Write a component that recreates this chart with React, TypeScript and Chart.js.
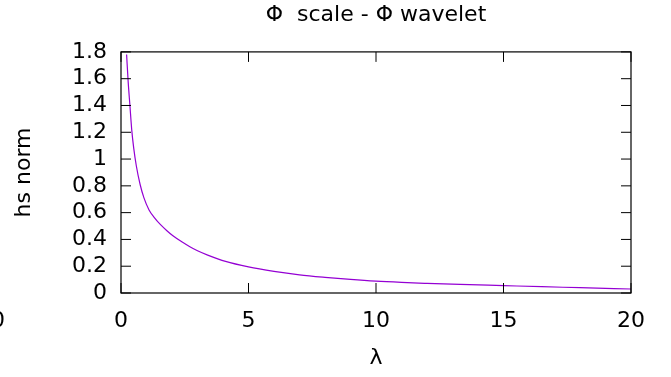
import React, { useEffect, useRef } from "react";
import { Chart, registerables } from "chart.js";

Chart.register(...registerables);

const titleText = "Φ  scale - Φ wavelet";
const xTitle = "λ";
const yTitle = "hs norm";
const strayLabel = "0";

const lambda = [0.22, 0.28, 0.35, 0.42, 0.5, 0.6, 0.75, 0.9, 1.1, 1.3, 1.55, 1.8, 2.05, 2.4, 2.7, 3.0, 3.4, 4.1, 5.0, 6.0, 7.0, 8.0, 9.0, 10.0, 11.0, 12.0, 13.3, 15.0, 16.5, 18.0, 20.0];
const hsNorm = [1.78, 1.58, 1.4, 1.22, 1.08, 0.95, 0.81, 0.71, 0.62, 0.565, 0.51, 0.465, 0.425, 0.38, 0.345, 0.315, 0.283, 0.236, 0.195, 0.162, 0.136, 0.117, 0.101, 0.088, 0.079, 0.072, 0.064, 0.055, 0.047, 0.04, 0.03];

const xMin = 0, xMax = 20, xStep = 5;
const yMin = 0, yMax = 1.8, yStep = 0.2;

const FONT = "'DejaVu Sans', sans-serif";
const FS = 22;

const framePlugin = {
  id: "gnuplotFrame",
  afterDatasetsDraw(chart: any) {
    const { ctx, chartArea: a, scales } = chart;
    const xs = scales.x, ys = scales.y;
    const tl = 10;
    ctx.save();
    ctx.strokeStyle = "#000";
    ctx.lineWidth = 1;
    ctx.beginPath();
    for (const t of xs.ticks) {
      const px = xs.getPixelForValue(t.value);
      ctx.moveTo(px, a.bottom); ctx.lineTo(px, a.bottom - tl);
      ctx.moveTo(px, a.top); ctx.lineTo(px, a.top + tl);
    }
    for (const t of ys.ticks) {
      const py = ys.getPixelForValue(t.value);
      ctx.moveTo(a.left, py); ctx.lineTo(a.left + tl, py);
      ctx.moveTo(a.right, py); ctx.lineTo(a.right - tl, py);
    }
    ctx.stroke();
    ctx.lineWidth = 1.2;
    ctx.strokeRect(a.left, a.top, a.right - a.left, a.bottom - a.top);
    // stray tick label at far left, as in the reference
    ctx.fillStyle = "#000";
    ctx.font = `${FS}px ${FONT}`;
    ctx.textAlign = "center";
    ctx.textBaseline = "middle";
    ctx.fillText(strayLabel, -2, a.bottom + 15 + FS * 0.6);
    ctx.restore();
  },
};

export default function App() {
  const ref = useRef<HTMLCanvasElement | null>(null);
  useEffect(() => {
    if (!ref.current) return;
    const chart = new Chart(ref.current, {
      type: "scatter",
      data: {
        datasets: [
          {
            data: lambda.map((x, i) => ({ x, y: hsNorm[i] })),
            showLine: true,
            borderColor: "#9400D3",
            borderWidth: 1.2,
            pointRadius: 0,
            cubicInterpolationMode: "monotone",
          },
        ],
      },
      options: {
        animation: false,
        responsive: false,
        layout: { padding: { left: 0, right: 40, top: 0, bottom: 0 } },
        plugins: {
          legend: { display: false },
          tooltip: { enabled: false },
          title: {
            display: true,
            fullSize: false,
            text: titleText,
            color: "#000",
            font: { family: FONT, size: FS, weight: "normal" },
            padding: { top: 2.5, bottom: 23 },
          },
        },
        scales: {
          x: {
            type: "linear",
            min: xMin,
            max: xMax,
            afterFit: (s: any) => { s.height = 84; },
            grid: { display: false, drawTicks: false },
            border: { display: false },
            ticks: {
              stepSize: xStep,
              color: "#000",
              padding: 15,
              maxRotation: 0,
              autoSkip: false,
              font: { family: FONT, size: FS },
            },
            title: {
              display: true,
              text: xTitle,
              color: "#000",
              font: { family: FONT, size: FS },
              padding: { top: 0, bottom: 6 },
            },
          },
          y: {
            type: "linear",
            min: yMin,
            max: yMax,
            afterFit: (s: any) => { s.width = 121; },
            grid: { display: false, drawTicks: false },
            border: { display: false },
            ticks: {
              stepSize: yStep,
              color: "#000",
              padding: 14,
              autoSkip: false,
              font: { family: FONT, size: FS },
              callback: (v: any) => String(Number(Number(v).toFixed(1))),
            },
            title: {
              display: true,
              text: yTitle,
              color: "#000",
              font: { family: FONT, size: FS },
              padding: { top: 11.5, bottom: 0 },
            },
          },
        },
      },
      plugins: [framePlugin],
    } as any);
    return () => chart.destroy();
  }, []);
  return (
    <div style={{ position: "fixed", left: 0, top: 0, width: 671, height: 377, background: "#fff" }}>
      <canvas ref={ref} width={671} height={377} style={{ display: "block" }} />
    </div>
  );
}
